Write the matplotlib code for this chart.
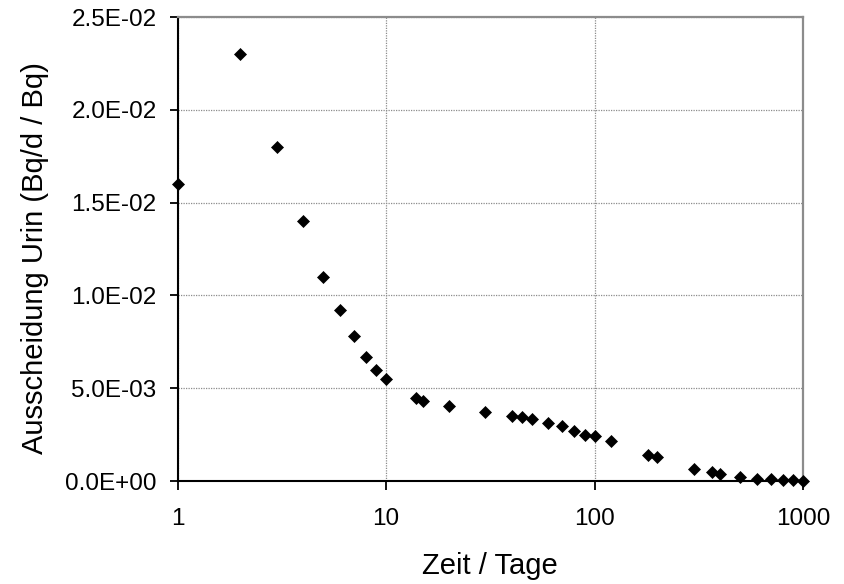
import matplotlib
matplotlib.use("Agg")
import matplotlib.pyplot as plt
from matplotlib.ticker import FuncFormatter, FixedLocator, NullLocator

plt.rcParams['font.family'] = ['Liberation Sans', 'DejaVu Sans']

# Data
zeit_tage = [1, 2, 3, 4, 5, 6, 7, 8, 9, 10, 14, 15, 20, 30, 40, 45, 50, 60, 70, 80,
             90, 100, 120, 180, 200, 300, 365, 400, 500, 600, 700, 800, 900, 1000]
ausscheidung = [0.0160, 0.0230, 0.0180, 0.0140, 0.0110, 0.0092, 0.0078, 0.0067, 0.0060,
                0.0055, 0.00445, 0.0043, 0.00405, 0.0037, 0.0035, 0.00343, 0.00332,
                0.00315, 0.00296, 0.00269, 0.0025, 0.0024, 0.00215, 0.0014, 0.0013,
                0.00066, 0.00048, 0.00038, 0.00022, 0.0001, 0.0001, 0.00004, 0.00003,
                0.00002]
x_ticks = [1, 10, 100, 1000]
x_ticklabels = ['1', '10', '100', '1000']
y_ticks = [0.0, 0.005, 0.010, 0.015, 0.020, 0.025]

fig = plt.figure(figsize=(8.44, 5.84), dpi=100)
ax = fig.add_axes([177.5 / 844, 1 - 481 / 584, 625.5 / 844, 464 / 584])

ax.plot(zeit_tage, ausscheidung, linestyle='none', marker='D', markersize=6.6,
        markerfacecolor='black', markeredgecolor='black', markeredgewidth=0.5,
        clip_on=False, zorder=5)

ax.set_xscale('log')
ax.set_xlim(1, 1000)
ax.set_ylim(0, 0.025)
ax.xaxis.set_major_locator(FixedLocator(x_ticks))
ax.set_xticklabels(x_ticklabels)
ax.xaxis.set_minor_locator(NullLocator())
ax.yaxis.set_major_locator(FixedLocator(y_ticks))
ax.yaxis.set_major_formatter(FuncFormatter(lambda v, p: '{:.1E}'.format(v)))

ax.grid(True, which='major', color='#8c8c8c', linestyle=(0, (1, 1)), linewidth=0.9)
ax.set_axisbelow(True)

for s in ['top', 'right']:
    ax.spines[s].set_color('#8c8c8c')
    ax.spines[s].set_linewidth(1.6)
for s in ['left', 'bottom']:
    ax.spines[s].set_color('black')
    ax.spines[s].set_linewidth(1.5)

ax.tick_params(axis='y', direction='out', length=6, width=1.3, pad=9, labelsize=17.5, colors='black')
ax.tick_params(axis='x', direction='out', length=6.5, width=1.3, pad=13, labelsize=17.5, colors='black')

ax.set_xlabel('Zeit / Tage', fontsize=21)
ax.set_ylabel('Ausscheidung Urin (Bq/d / Bq)', fontsize=21)
ax.xaxis.set_label_coords(0.5, -0.153)
ax.yaxis.set_label_coords(-0.206, 0.48)

fig.savefig('out.png', dpi=100)
